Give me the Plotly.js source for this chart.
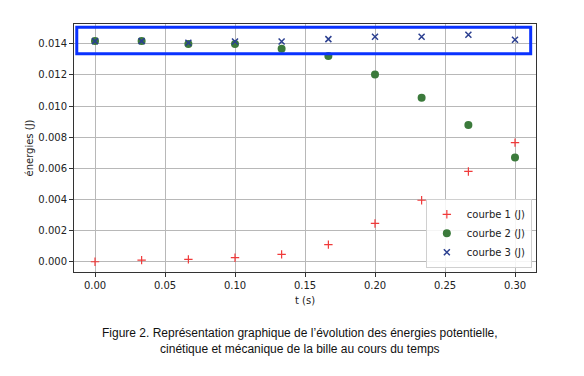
<!DOCTYPE html>
<html>
<head>
<meta charset="utf-8">
<script src="https://cdn.plot.ly/plotly-3.0.1.min.js"></script>
<style>
html,body{margin:0;padding:0;background:#fff;}
#chart{width:584px;height:376px;}
</style>
</head>
<body>
<div id="chart"></div>
<script>
const t = [0.0, 0.0333, 0.0667, 0.1, 0.1333, 0.1667, 0.2, 0.2333, 0.2667, 0.3];
const courbe1 = [0.0, 0.0001, 0.00015, 0.00026, 0.00047, 0.0011, 0.00246, 0.00395, 0.0058, 0.00765];
const courbe2 = [0.01417, 0.01417, 0.01398, 0.01398, 0.01368, 0.01321, 0.01202, 0.01054, 0.00878, 0.00669];
const courbe3 = [0.01417, 0.01417, 0.01406, 0.01415, 0.01415, 0.0143, 0.01445, 0.01445, 0.01458, 0.01426];
const names = ["courbe 1 (J)", "courbe 2 (J)", "courbe 3 (J)"];
const caption = "Figure 2. Représentation graphique de l’évolution des énergies potentielle,<br>cinétique et mécanique de la bille au cours du temps";

const traces = [
  {x: t, y: courbe1, name: names[0], type: 'scatter', mode: 'markers',
   marker: {symbol: 'cross-thin', size: 6, line: {color: '#f03a3a', width: 1.2}}},
  {x: t, y: courbe2, name: names[1], type: 'scatter', mode: 'markers',
   marker: {symbol: 'circle', size: 8, color: '#3b7a3b'}},
  {x: t, y: courbe3, name: names[2], type: 'scatter', mode: 'markers',
   marker: {symbol: 'x-thin', size: 6, line: {color: '#2b3f90', width: 1.5}}}
];

const axisCommon = {
  showline: true, mirror: true, linecolor: '#333', linewidth: 1,
  ticks: 'outside', ticklen: 4, tickcolor: '#333', tickwidth: 1,
  showgrid: true, gridcolor: '#b8b8b8', gridwidth: 1, zeroline: false,
  tickfont: {family: 'DejaVu Sans', size: 10, color: '#222'}
};

const layout = {
  width: 584, height: 376,
  margin: {l: 74, r: 48, t: 24, b: 104},
  paper_bgcolor: '#fff', plot_bgcolor: '#fff',
  font: {family: 'DejaVu Sans', size: 10, color: '#222'},
  showlegend: true,
  legend: {x: 0.991, y: 0.017, xanchor: 'right', yanchor: 'bottom',
           bgcolor: 'rgba(255,255,255,0.85)', bordercolor: '#d0d0d0', borderwidth: 1,
           itemwidth: 30,
           font: {family: 'DejaVu Sans', size: 10, color: '#222'}, tracegroupgap: 0},
  xaxis: Object.assign({}, axisCommon, {
    range: [-0.015, 0.315], dtick: 0.05, tick0: 0, tickformat: '.2f',
    title: {text: 't (s)', standoff: 6, font: {family: 'DejaVu Sans', size: 10, color: '#222'}}
  }),
  yaxis: Object.assign({}, axisCommon, {
    range: [-0.00066, 0.01527], dtick: 0.002, tick0: 0, tickformat: '.3f',
    title: {text: 'énergies (J)', standoff: 2, font: {family: 'DejaVu Sans', size: 10, color: '#222'}}
  }),
  shapes: [
    {type: 'rect', xref: 'paper', yref: 'paper', x0: 0.006, x1: 0.9885, y0: 0.880, y1: 0.987,
     line: {color: '#0a32ff', width: 3}, fillcolor: 'rgba(0,0,0,0)'}
  ],
  annotations: [
    {text: caption, xref: 'paper', yref: 'paper', x: 0.489, y: -0.21, xanchor: 'center', yanchor: 'top',
     showarrow: false, align: 'center',
     font: {family: 'Liberation Sans', size: 12, color: '#111'}}
  ]
};

Plotly.newPlot('chart', traces, layout, {displayModeBar: false, staticPlot: true});
</script>
</body>
</html>
